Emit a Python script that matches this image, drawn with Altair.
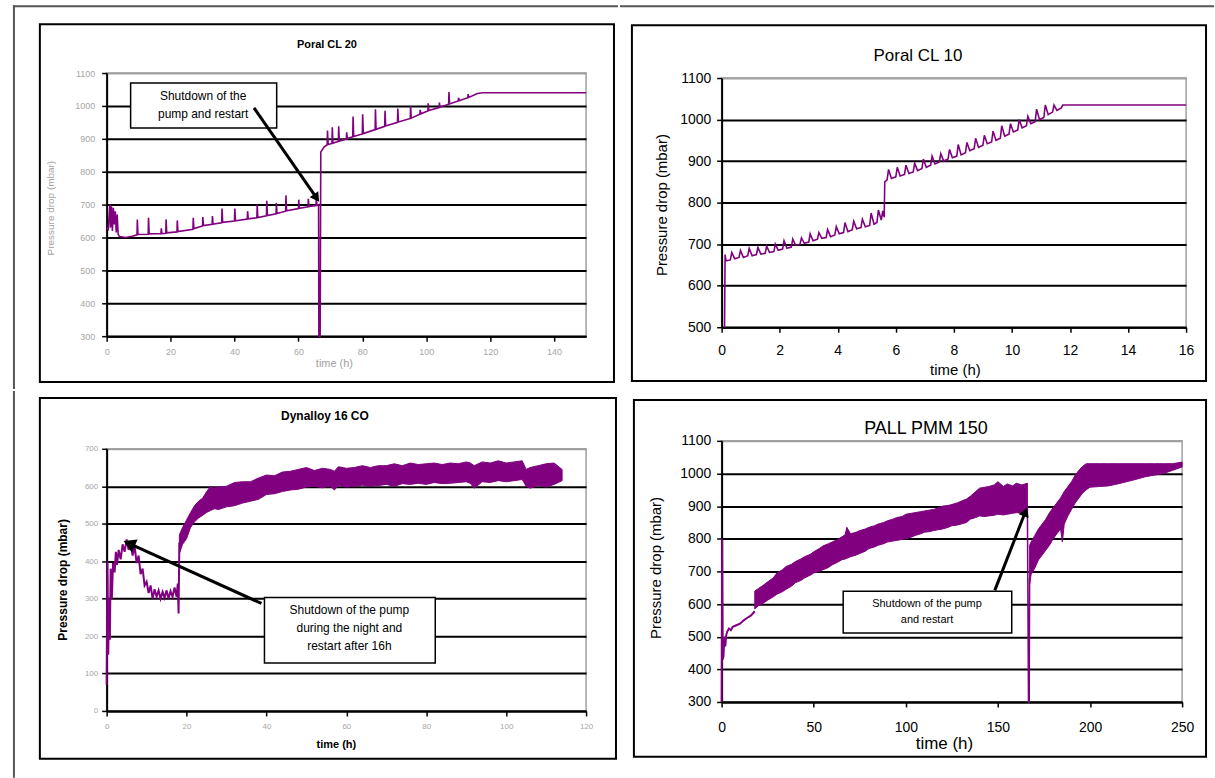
import altair as alt
import pandas as pd

FONT = "Liberation Sans"
PURPLE = "#800080"
LIGHT = "#a6a6a6"
FRAME = "#555555"

# ---------------- texts ----------------
panel_titles = ["Poral CL 20", "Poral CL 10", "Dynalloy 16 CO", "PALL PMM 150"]
y_title = "Pressure drop (mbar)"
x_title = "time (h)"

# ---------------- Panel 1 : Poral CL 20 ----------------
p1_time = [0, 0.5, 1.0, 1.2, 1.5, 1.8, 2.1, 2.4, 2.7, 3.0, 3.3, 3.6, 4.0, 6.0, 8.0,
           9.5, 9.6, 9.8, 13.0, 13.1, 13.3, 17.0, 17.1, 17.3, 18.5, 18.6, 18.8,
           22.0, 22.1, 22.3, 27.0, 27.1, 27.3, 30.0, 30.1, 30.3, 33.0, 33.1, 33.3,
           36.0, 36.1, 36.3, 40.0, 40.1, 40.3, 44.0, 44.1, 44.3, 47.0, 47.1, 47.3,
           50.0, 50.1, 50.3, 53.0, 53.1, 53.3, 56.0, 56.1, 56.3, 60.0, 60.1, 60.3,
           63.0, 63.1, 63.3, 65.5, 65.6, 65.8, 66.3, 66.4, 66.8, 67.0, 68.0,
           69.0, 69.1, 69.3, 70.5, 70.6, 70.8, 72.5, 72.6, 72.8, 75.0, 75.1, 75.3,
           77.0, 77.1, 77.3, 80.0, 80.1, 80.3, 84.0, 84.1, 84.3, 87.0, 87.1, 87.3,
           91.0, 91.1, 91.3, 95.0, 95.1, 95.3, 98.0, 98.1, 98.3, 100.5, 100.6, 100.8,
           104.0, 104.1, 104.3, 107.0, 107.1, 107.3, 110.0, 110.1, 110.3,
           113.0, 113.1, 113.3, 116.0, 117.5, 150.0]
p1_dp = [630, 625, 700, 630, 695, 620, 690, 640, 680, 615, 670, 610, 603, 600, 604,
         608, 655, 609, 610, 660, 611, 612, 628, 612, 613, 655, 614,
         617, 652, 618, 625, 660, 627, 635, 662, 636, 640, 665, 641,
         645, 688, 646, 650, 688, 651, 656, 680, 657, 660, 700, 661,
         666, 712, 667, 672, 705, 673, 680, 728, 681, 688, 715, 689,
         693, 718, 694, 697, 720, 698, 700, 300, 300, 860, 875,
         882, 925, 883, 886, 935, 887, 892, 938, 893, 900, 920, 901,
         906, 968, 907, 915, 975, 916, 928, 990, 929, 938, 985, 939,
         950, 992, 951, 962, 1000, 963, 975, 988, 976, 985, 1008, 986,
         995, 1010, 996, 1005, 1042, 1006, 1015, 1025, 1016,
         1025, 1036, 1026, 1038, 1040, 1040]
p1_xticks = [0, 20, 40, 60, 80, 100, 120, 140]
p1_yticks = [300, 400, 500, 600, 700, 800, 900, 1000, 1100]
p1_note = ["Shutdown of the", "pump and restart"]

# ---------------- Panel 2 : Poral CL 10 ----------------
p2_time = [0.10, 0.12, 0.15,
           0.30, 0.35, 0.45, 0.60, 0.65, 0.75, 0.90, 0.95, 1.05, 1.20, 1.25, 1.35,
           1.50, 1.55, 1.65, 1.80, 1.85, 1.95, 2.10, 2.15, 2.25, 2.40, 2.45, 2.55,
           2.70, 2.75, 2.85, 3.00, 3.05, 3.15, 3.30, 3.35, 3.45, 3.60, 3.65, 3.75,
           3.90, 3.95, 4.05, 4.20, 4.25, 4.35, 4.50, 4.55, 4.65, 4.80, 4.85, 4.95,
           5.10, 5.15, 5.25,
           5.35, 5.40, 5.50, 5.55, 5.60, 5.62, 5.70,
           5.75, 5.85, 6.00, 6.05, 6.15, 6.30, 6.35, 6.45, 6.60, 6.65, 6.75, 6.90,
           6.95, 7.05, 7.20, 7.25, 7.35, 7.50, 7.55, 7.65, 7.80, 7.85, 7.95, 8.10,
           8.15, 8.25, 8.40, 8.45, 8.55, 8.70, 8.75, 8.85, 9.00, 9.05, 9.15, 9.30,
           9.35, 9.45, 9.60, 9.65, 9.75, 9.90, 9.95, 10.05, 10.20, 10.25, 10.35, 10.50,
           10.55, 10.65, 10.80, 10.85, 10.95, 11.10, 11.15, 11.25, 11.40,
           11.45, 11.55, 11.70, 11.75, 12.00, 16.00]
p2_dp = [500, 675, 660,
         662, 680, 665, 668, 685, 668, 672, 690, 672, 675, 692, 676,
         678, 695, 680, 682, 700, 685, 688, 708, 690, 693, 712, 697,
         700, 715, 702, 705, 725, 708, 712, 728, 714, 716, 735, 718,
         722, 742, 725, 728, 752, 730, 735, 755, 737, 740, 760, 742,
         745, 775, 748,
         752, 782, 758, 780, 765, 850, 855,
         880, 858, 862, 885, 864, 868, 890, 870, 874, 895, 877, 882,
         905, 885, 890, 912, 893, 898, 918, 900, 905, 928, 908, 912,
         940, 915, 920, 945, 925, 930, 955, 933, 938, 962, 942, 946,
         972, 950, 955, 985, 960, 965, 990, 970, 975, 1000, 980, 985,
         1008, 990, 995, 1025, 1000, 1005, 1035, 1012, 1018,
         1035, 1022, 1028, 1035, 1035, 1035]
p2_xticks = [0, 2, 4, 6, 8, 10, 12, 14, 16]
p2_yticks = [500, 600, 700, 800, 900, 1000, 1100]

# ---------------- Panel 3 : Dynalloy 16 CO ----------------
p3_line_time = [0, 0.2, 0.4, 0.6, 0.8, 1.0, 1.3, 1.6, 2.0, 2.3, 2.6, 3.0, 3.5, 4.0, 4.5,
                5.0, 5.5, 6.0, 6.5, 7.0, 7.5, 8.0, 8.5, 9.0, 9.5, 10.0, 10.5, 11.0, 11.5,
                12.0, 12.5, 13.0, 13.5, 14.0, 14.5, 15.0, 15.5, 16.0, 16.5, 17.0, 17.5,
                17.8, 18.0, 18.2]
p3_line_dp = [70, 400, 150, 300, 190, 380, 300, 395, 370, 425, 390, 430, 405, 445, 425,
              458, 430, 450, 415, 440, 395, 415, 365, 380, 335, 345, 315, 335, 300,
              325, 305, 322, 300, 318, 302, 322, 300, 320, 305, 330, 305,
              340, 260, 450]
p3_band_time = [18.2, 19, 20, 21, 22, 23, 24, 25, 26, 27, 28, 30, 32, 34, 36, 38, 40,
                42, 44, 46, 48, 50, 52, 54, 56, 57, 58, 60, 62, 64, 66, 68, 70,
                72, 74, 76, 78, 80, 82, 84, 86, 88, 90, 91, 92, 94, 96, 98, 100,
                102, 104, 105, 106, 108, 110, 112, 114]
p3_band_lo = [420, 445, 460, 490, 505, 515, 522, 530, 535, 540, 538, 545, 548, 555, 560, 565, 578,
              580, 586, 590, 592, 598, 600, 596, 600, 590, 602, 598, 600, 603, 600, 602, 605,
              600, 607, 605, 608, 605, 610, 607, 608, 610, 612, 608, 595, 612, 610, 615, 612,
              615, 618, 600, 595, 602, 598, 605, 615]
p3_band_hi = [470, 490, 510, 530, 548, 560, 568, 585, 600, 595, 598, 600, 610, 612, 612, 622, 630,
              628, 638, 640, 645, 650, 642, 648, 645, 640, 652, 648, 650, 655, 650, 655, 655,
              660, 655, 662, 658, 660, 662, 658, 662, 660, 665, 662, 655, 665, 662, 668, 662,
              665, 668, 645, 650, 655, 660, 662, 645]
p3_xticks = [0, 20, 40, 60, 80, 100, 120]
p3_yticks = [0, 100, 200, 300, 400, 500, 600, 700]
p3_note = ["Shutdown of the pump", "during the night and", "restart after 16h"]

# ---------------- Panel 4 : PALL PMM 150 ----------------
p4_line_time = [0, 0.3, 0.6, 1.0, 1.5, 2.0, 2.5, 3.0, 4.0, 5.0, 6.0, 8.0, 10.0, 12.0, 14.0, 16.0, 18.0]
p4_line_dp = [300, 800, 430, 440, 500, 470, 505, 515, 525, 520, 530, 535, 540, 550, 558, 565, 578]
p4_drop_time = [166.0, 166.6, 167.0, 167.2]
p4_drop_dp = [900, 300, 300, 680]
p4_band1_time = [18, 20, 22, 25, 28, 30, 33, 35, 38, 40, 43, 45, 48, 50, 53, 55, 58, 60,
                 63, 65, 67, 68, 70, 73, 75, 78, 80, 83, 85, 88, 90, 93, 95, 98, 100,
                 103, 105, 108, 110, 113, 115, 118, 120, 123, 125, 128, 130, 133, 135,
                 138, 140, 143, 145, 148, 150, 153, 155, 158, 160, 163, 166]
p4_band1_lo = [585, 595, 600, 612, 622, 630, 638, 645, 655, 665, 672, 680, 688, 695, 700, 705, 712, 720,
               728, 735, 738, 740, 745, 750, 755, 762, 770, 775, 780, 785, 790, 793, 795, 798, 800,
               805, 810, 815, 820, 822, 825, 828, 830, 835, 840, 842, 845, 850, 860,
               865, 870, 868, 870, 872, 875, 873, 875, 878, 880, 878, 885]
p4_band1_hi = [640, 648, 655, 668, 680, 695, 705, 715, 722, 730, 738, 745, 752, 760, 770, 778, 785, 790,
               798, 805, 812, 835, 815, 820, 825, 830, 835, 840, 845, 850, 855, 860, 865, 868, 875,
               878, 880, 883, 885, 888, 890, 895, 900, 902, 905, 910, 915, 922, 930,
               945, 955, 958, 960, 965, 975, 960, 968, 962, 970, 965, 970]
p4_band2_time = [167.2, 168, 170, 172, 174, 176, 178, 180, 182, 184, 185, 186, 188, 190,
                 192, 194, 196, 198, 200, 205, 210, 215, 220, 225, 230, 235, 240, 245, 250]
p4_band2_lo = [660, 690, 710, 735, 750, 765, 780, 800, 815, 830, 790, 845, 870, 890,
               910, 925, 940, 950, 958, 960, 962, 968, 975, 982, 990, 995, 1000, 1010, 1020]
p4_band2_hi = [780, 790, 810, 830, 845, 860, 880, 895, 910, 925, 935, 945, 960, 975,
               995, 1010, 1022, 1030, 1030, 1030, 1030, 1030, 1030, 1030, 1030, 1030, 1030, 1030, 1035]
p4_xticks = [0, 50, 100, 150, 200, 250]
p4_yticks = [300, 400, 500, 600, 700, 800, 900, 1000, 1100]
p4_note = ["Shutdown of the pump", "and restart"]

for a, b in [(p1_time, p1_dp), (p2_time, p2_dp), (p3_line_time, p3_line_dp),
             (p3_band_time, p3_band_lo), (p3_band_time, p3_band_hi),
             (p4_line_time, p4_line_dp), (p4_band1_time, p4_band1_lo), (p4_band1_time, p4_band1_hi),
             (p4_band2_time, p4_band2_lo), (p4_band2_time, p4_band2_hi), (p4_drop_time, p4_drop_dp)]:
    assert len(a) == len(b), (len(a), len(b))


# ---------------- helpers ----------------
def one():
    return pd.DataFrame({"k": [0]})


def line_df(t, v):
    return pd.DataFrame({"t": t, "dp": v, "i": list(range(len(t)))})


def px_rect(x1, x2, y1, y2, **mark):
    return alt.Chart(one()).mark_rect(clip=False, **mark).encode(
        x=alt.value(x1), x2=alt.value(x2), y=alt.value(y1), y2=alt.value(y2))


def px_text(txt, x, y, size, weight="normal", color="black"):
    return alt.Chart(one()).mark_text(font=FONT, fontSize=size, fontWeight=weight, color=color,
                                      align="center", baseline="middle").encode(
        x=alt.value(x), y=alt.value(y), text=alt.value(txt))


def y_axis(values, top, lab_size, lab_color, lab_pad, t_size, t_color, t_weight, tx, ty):
    return alt.Axis(values=values, grid=True, format="d",
                    gridColor={"condition": {"test": f"datum.value >= {top}", "value": "#a0a0a0"},
                               "value": "black"},
                    gridWidth=2, domainColor="black", domainWidth=2, tickColor="black",
                    tickWidth=1.5, tickSize=5,
                    labelFont=FONT, labelFontSize=lab_size, labelColor=lab_color, labelPadding=lab_pad,
                    labelOverlap=False, labelFlush=False,
                    title=y_title, titleFont=FONT, titleFontSize=t_size, titleColor=t_color,
                    titleFontWeight=t_weight, titleX=tx, titleY=ty, titleAngle=270,
                    titleAlign="center", titleBaseline="middle")


def x_axis(values, lab_size, lab_color, lab_pad, t_size, t_color, t_weight, tx, ty):
    return alt.Axis(values=values, grid=False, format="d", domainColor="black", domainWidth=2,
                    tickColor="black", tickWidth=1.5, tickSize=5,
                    labelFont=FONT, labelFontSize=lab_size, labelColor=lab_color, labelPadding=lab_pad,
                    labelOverlap=False, labelFlush=False,
                    title=x_title, titleFont=FONT, titleFontSize=t_size, titleColor=t_color,
                    titleFontWeight=t_weight, titleX=tx, titleY=ty, titleAngle=0,
                    titleAlign="center", titleBaseline="middle")


def note_layers(xs, ys, ax, ay, box, lines, line_dp, text_t, size, arrow, angle, head):
    t1, t2, v1, v2 = box
    box_df = pd.DataFrame({"t": [t1], "t2": [t2], "dp": [v1], "v2": [v2]})
    rect = alt.Chart(box_df).mark_rect(fill="white", stroke="black", strokeWidth=1.5).encode(
        x=alt.X("t:Q", scale=xs, axis=ax), x2="t2:Q",
        y=alt.Y("dp:Q", scale=ys, axis=ay), y2="v2:Q")
    txt_df = pd.DataFrame({"t": [text_t] * len(lines), "dp": line_dp, "txt": lines})
    txt = alt.Chart(txt_df).mark_text(font=FONT, fontSize=size, color="black").encode(
        x=alt.X("t:Q", scale=xs, axis=ax), y=alt.Y("dp:Q", scale=ys, axis=ay), text="txt:N")
    a_df = pd.DataFrame({"t": [arrow[0]], "dp": [arrow[1]], "t2": [arrow[2]], "v2": [arrow[3]]})
    rule = alt.Chart(a_df).mark_rule(color="black", strokeWidth=3).encode(
        x=alt.X("t:Q", scale=xs, axis=ax), x2="t2:Q",
        y=alt.Y("dp:Q", scale=ys, axis=ay), y2="v2:Q")
    h_df = pd.DataFrame({"t": [arrow[2]], "dp": [arrow[3]]})
    tip = alt.Chart(h_df).mark_point(shape="triangle", filled=True, color="black", opacity=1,
                                     size=head, angle=angle).encode(
        x=alt.X("t:Q", scale=xs, axis=ax), y=alt.Y("dp:Q", scale=ys, axis=ay))
    return [rect, txt, rule, tip]


# ---------------- Panel 1 (plot origin 106,73) ----------------
W1, H1 = 481, 264
xs1 = alt.Scale(domain=[0, 150], nice=False, zero=False)
ys1 = alt.Scale(domain=[300, 1100], nice=False, zero=False)
ax1x = x_axis(p1_xticks, 9, LIGHT, 6, 11, "#a0a0a0", "normal", 228, 27)
ax1y = y_axis(p1_yticks, 1100, 9, LIGHT, 7, 10, "#a0a0a0", "normal", -56, 135)
p1_line = alt.Chart(line_df(p1_time, p1_dp)).mark_line(color=PURPLE, strokeWidth=1.6).encode(
    x=alt.X("t:Q", scale=xs1, axis=ax1x), y=alt.Y("dp:Q", scale=ys1, axis=ax1y), order="i:Q")
panel1 = alt.layer(
    px_rect(-94, -92, -68, 317, color=FRAME),              # outer frame (left)
    px_rect(-94, 513, -68, -66, color=FRAME),              # outer frame (top)
    px_rect(-67, 509, -49, 310, filled=False, stroke="black", strokeWidth=2),
    px_text(panel_titles[0], 221, -28, 11, "bold"),
    p1_line,
    *note_layers(xs1, ys1, ax1x, ax1y, [7.5, 53.2, 1070, 933], p1_note, [1030, 976], 30.2, 12,
                 [46.1, 994, 65.4, 724], 145, 110),
).properties(width=W1, height=H1)

# ---------------- Panel 2 (plot origin 721,78) ----------------
W2, H2 = 466, 250
xs2 = alt.Scale(domain=[0, 16], nice=False, zero=False)
ys2 = alt.Scale(domain=[500, 1100], nice=False, zero=False)
ax2x = x_axis(p2_xticks, 14, "black", 11, 15, "black", "normal", 234, 42)
ax2y = y_axis(p2_yticks, 1100, 14, "black", 6, 15, "black", "normal", -60, 127)
p2_line = alt.Chart(line_df(p2_time, p2_dp)).mark_line(color=PURPLE, strokeWidth=1.6).encode(
    x=alt.X("t:Q", scale=xs2, axis=ax2x), y=alt.Y("dp:Q", scale=ys2, axis=ax2y), order="i:Q")
panel2 = alt.layer(
    px_rect(-102, 494, -73, -71, color=FRAME),             # outer frame (top)
    px_rect(0, 50, 307, 308, color="white"),               # spacer (layout)
    px_rect(-90, 486, -53, 304, filled=False, stroke="black", strokeWidth=2),
    px_text(panel_titles[1], 197, -22, 17),
    p2_line,
).properties(width=W2, height=H2)

# ---------------- Panel 3 (plot origin 106,448) ----------------
W3, H3 = 481, 263
xs3 = alt.Scale(domain=[0, 120], nice=False, zero=False)
ys3 = alt.Scale(domain=[0, 700], nice=False, zero=False)
ax3x = x_axis(p3_xticks, 8, LIGHT, 7, 11, "black", "bold", 230, 34)
ax3y = y_axis(p3_yticks, 700, 8, LIGHT, 4, 12, "black", "bold", -44, 131)
p3_df = line_df(p3_line_time, p3_line_dp)
p3_band_df = pd.DataFrame({"t": p3_band_time, "dp": p3_band_lo, "hi": p3_band_hi})
p3_line = alt.Chart(p3_df).mark_line(color=PURPLE, strokeWidth=2).encode(
    x=alt.X("t:Q", scale=xs3, axis=ax3x), y=alt.Y("dp:Q", scale=ys3, axis=ax3y), order="i:Q")
p3_area = alt.Chart(p3_band_df).mark_area(color=PURPLE, opacity=1, stroke=PURPLE, strokeWidth=1).encode(
    x=alt.X("t:Q", scale=xs3, axis=ax3x), y=alt.Y("dp:Q", scale=ys3, axis=ax3y), y2="hi:Q")
panel3 = alt.layer(
    px_rect(-94, -92, -58, 330, color=FRAME),              # outer frame (left)
    px_rect(-67, 511, -51, 311, filled=False, stroke="black", strokeWidth=2),
    px_text(panel_titles[2], 219, -33, 12, "bold"),
    p3_line, p3_area,
    *note_layers(xs3, ys3, ax3x, ax3y, [39.5, 82.25, 303, 128], p3_note, [269, 221, 173], 60.75, 12,
                 [38.75, 287, 6.1, 445], 294, 200),
).properties(width=W3, height=H3)

# ---------------- Panel 4 (plot origin 721,440) ----------------
W4, H4 = 462, 262
xs4 = alt.Scale(domain=[0, 250], nice=False, zero=False)
ys4 = alt.Scale(domain=[300, 1100], nice=False, zero=False)
ax4x = x_axis(p4_xticks, 14, "black", 14, 17, "black", "normal", 223, 42)
ax4y = y_axis(p4_yticks, 1100, 14, "black", 6, 15, "black", "normal", -66, 127)
p4_l1 = alt.Chart(line_df(p4_line_time, p4_line_dp)).mark_line(color=PURPLE, strokeWidth=2).encode(
    x=alt.X("t:Q", scale=xs4, axis=ax4x), y=alt.Y("dp:Q", scale=ys4, axis=ax4y), order="i:Q")
p4_l2 = alt.Chart(line_df(p4_drop_time, p4_drop_dp)).mark_line(color=PURPLE, strokeWidth=1.5).encode(
    x=alt.X("t:Q", scale=xs4, axis=ax4x), y=alt.Y("dp:Q", scale=ys4, axis=ax4y), order="i:Q")
p4_a1 = alt.Chart(pd.DataFrame({"t": p4_band1_time, "dp": p4_band1_lo, "hi": p4_band1_hi})).mark_area(
    color=PURPLE, opacity=1, stroke=PURPLE, strokeWidth=1).encode(
    x=alt.X("t:Q", scale=xs4, axis=ax4x), y=alt.Y("dp:Q", scale=ys4, axis=ax4y), y2="hi:Q")
p4_a2 = alt.Chart(pd.DataFrame({"t": p4_band2_time, "dp": p4_band2_lo, "hi": p4_band2_hi})).mark_area(
    color=PURPLE, opacity=1, stroke=PURPLE, strokeWidth=1).encode(
    x=alt.X("t:Q", scale=xs4, axis=ax4x), y=alt.Y("dp:Q", scale=ys4, axis=ax4y), y2="hi:Q")
panel4 = alt.layer(
    px_rect(0, 50, -54, -53, color="white"),               # spacer (layout)
    px_rect(-88, 486, -41, 317, filled=False, stroke="black", strokeWidth=2),
    px_text(panel_titles[3], 205, -12, 18),
    p4_l1, p4_l2, p4_a1, p4_a2,
    *note_layers(xs4, ys4, ax4x, ax4y, [66.0, 157.5, 639, 511], p4_note, [599, 551], 111.5, 11,
                 [148.3, 642, 164.6, 878], 22, 110),
).properties(width=W4, height=H4)


def anchor():
    # 1x1 invisible cell heading each column so rows are placed by their frames
    return alt.Chart(one()).mark_rect(color="white").encode(
        x=alt.value(0), x2=alt.value(1), y=alt.value(0), y2=alt.value(1)
    ).properties(width=1, height=1, view=alt.ViewBackground(stroke=None))


col1 = alt.vconcat(anchor(), panel1, panel3, spacing=0)
col2 = alt.vconcat(anchor(), panel2, panel4, spacing=0)
chart = alt.hconcat(col1, col2, spacing=0).properties(
    padding={"left": 12, "top": 2, "right": 0, "bottom": 0},
    background="white",
).configure_view(stroke="#a0a0a0", strokeWidth=1.5)

chart.save("out.html", embed_options={"renderer": "svg", "actions": False})
